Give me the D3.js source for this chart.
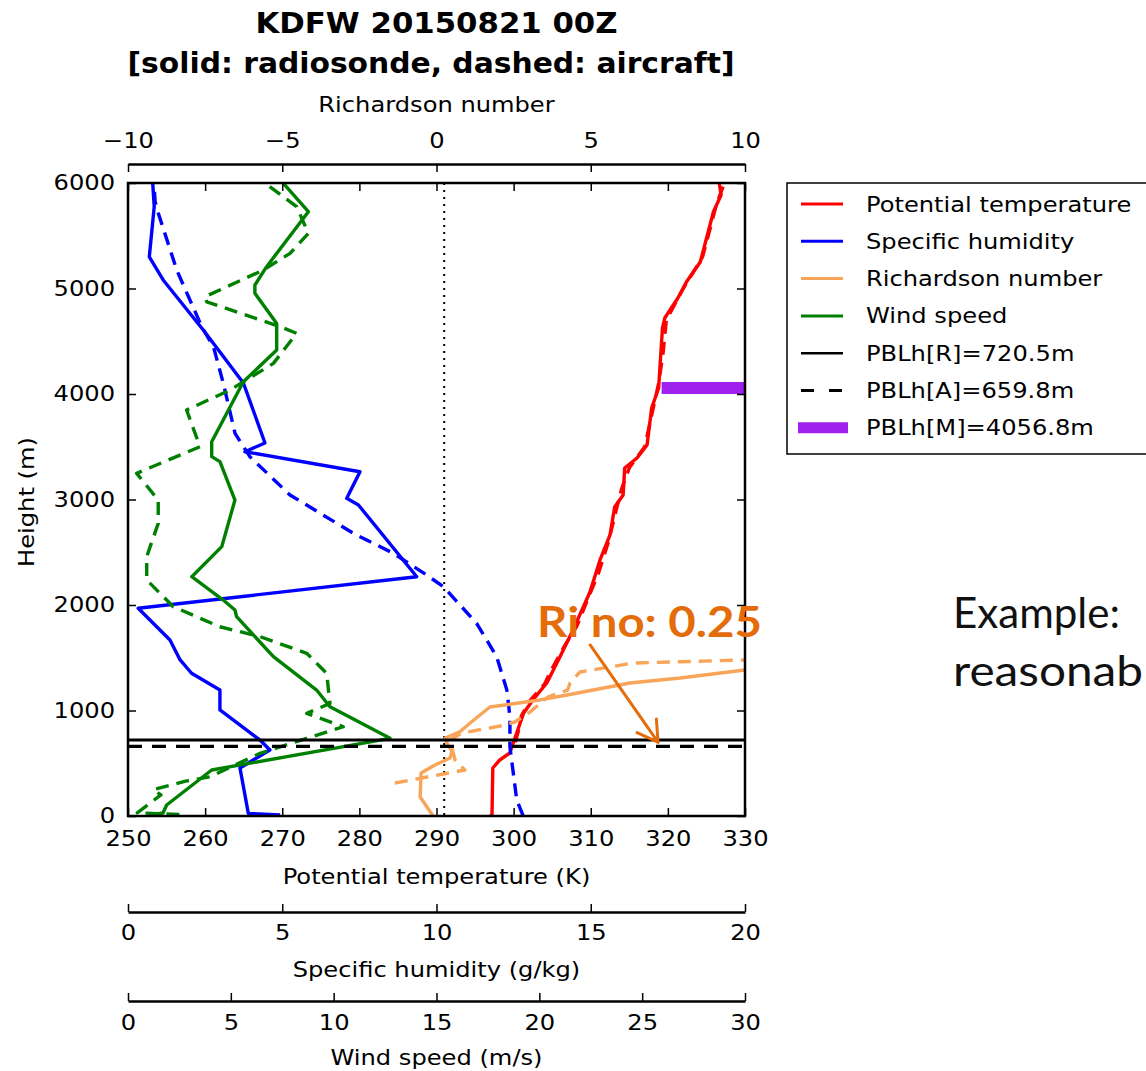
<!DOCTYPE html>
<html>
<head>
<meta charset="utf-8">
<script src="https://cdn.jsdelivr.net/npm/d3@7"></script>
<style>
  body { margin: 0; background: white; }
  svg { display: block; font-family: "DejaVu Sans", sans-serif; }
</style>
</head>
<body>
<div id="chart"></div>
<script>
// Profiles: heights (m) and values

// Potential temperature (K)
const thetaSondeH = [0, 20, 455, 531, 597, 787, 976, 1100, 1261, 1507, 1763, 2123, 2427, 2664, 2929, 3043, 3299, 3393, 3517, 3867, 4057, 4626, 4720, 4910, 5062, 5251, 5725, 5886, 5981, 6050];
const thetaSondeV = [297.0, 297.2, 297.3, 298.2, 299.5, 300.4, 301.3, 302.5, 304.3, 306.0, 307.7, 309.9, 311.2, 312.5, 313.1, 314.2, 314.4, 316.0, 317.3, 317.9, 318.8, 319.3, 319.6, 321.3, 322.4, 324.2, 325.9, 326.9, 326.7, 326.6];
const thetaAcftH = [700, 800, 950, 1100, 1250, 1400, 1600, 1800, 2000, 2300, 2600, 2900, 3100, 3300, 3500, 3800, 4100, 4400, 4700, 5000, 5300, 5600, 5800, 6050];
const thetaAcftV = [300.2, 300.6, 301.0, 302.2, 304.0, 305.0, 306.5, 308.2, 309.3, 311.0, 312.3, 313.3, 314.0, 315.0, 317.0, 317.9, 318.8, 319.4, 319.8, 322.0, 324.5, 325.6, 326.3, 327.6];

// Specific humidity (g/kg)
const qSondeH = [9, 25, 455, 626, 720, 1005, 1194, 1353, 1479, 1668, 1969, 2268, 2948, 3011, 3263, 3453, 3536, 4104, 4607, 5081, 5299, 5776, 6050];
const qSondeV = [4.93, 3.9, 3.63, 4.60, 4.28, 2.98, 2.98, 2.06, 1.69, 1.36, 0.33, 9.36, 7.47, 7.09, 7.52, 3.79, 4.44, 3.74, 2.44, 1.14, 0.69, 0.85, 0.79];
const qAcftH = [0, 152, 657, 941, 1194, 1510, 1827, 2174, 2300, 2490, 2680, 3043, 3406, 3627, 4101, 4448, 4638, 5175, 5716, 5823, 5950];
const qAcftV = [12.81, 12.60, 12.38, 12.38, 12.28, 11.95, 11.30, 10.22, 9.6, 8.60, 7.30, 5.25, 3.95, 3.47, 3.09, 2.77, 2.39, 1.58, 0.98, 0.88, 0.85];

// Richardson number
const riSondeH = [0, 180, 408, 483, 550, 616, 673, 739, 799, 882, 1033, 1100, 1147, 1261, 1308, 1384];
const riSondeV = [-0.11, -0.53, -0.50, -0.05, 0.44, 0.50, 0.37, 0.28, 0.76, 1.09, 1.73, 3.35, 4.23, 6.27, 7.9, 10.0];
const riAcftH = [313, 436, 531, 645, 720, 787, 853, 891, 986, 1128, 1194, 1261, 1365, 1450, 1479];
const riAcftV = [-1.35, 0.92, 0.60, 0.50, 0.44, 0.83, 2.06, 2.54, 3.03, 3.61, 4.25, 4.33, 4.65, 6.37, 10.0];

// Wind speed (m/s)
const windSondeH = [9, 28, 104, 436, 736, 1036, 1194, 1510, 1889, 1953, 2047, 2268, 2553, 2995, 3359, 3406, 3548, 4116, 4417, 4668, 4954, 5033, 5207, 5728, 5981, 6050];
const windSondeV = [1.07, 1.7, 1.88, 4.07, 12.74, 9.82, 9.17, 7.07, 5.28, 5.20, 4.63, 3.10, 4.56, 5.20, 4.47, 4.07, 4.07, 5.61, 7.23, 7.23, 6.17, 6.17, 6.74, 8.77, 7.63, 7.4];
const windAcftH = [15, 30, 200, 250, 330, 372, 594, 736, 846, 973, 1067, 1352, 1542, 1700, 1794, 1984, 2237, 2458, 2774, 2995, 3248, 3500, 3848, 4038, 4290, 4575, 4638, 4874, 4922, 5175, 5333, 5523, 5776, 6050];
const windAcftV = [2.5, 0.45, 1.6, 1.23, 2.8, 3.99, 6.42, 8.69, 10.47, 8.69, 9.82, 9.66, 8.69, 6.42, 4.47, 2.20, 0.91, 0.91, 1.47, 1.47, 0.42, 3.50, 2.85, 4.96, 7.07, 8.2, 7.39, 3.83, 3.74, 6.58, 7.88, 8.77, 8.2, 6.3];

// PBL heights (m) and critical Richardson number
const pblR = 720.5, pblA = 659.8, pblM = 4056.8;
const riCritical = 0.25;

// Tick values
const heightTicks = [0, 1000, 2000, 3000, 4000, 5000, 6000];
const thetaTicks = [250, 260, 270, 280, 290, 300, 310, 320, 330];
const riTicks = [-10, -5, 0, 5, 10];
const qTicks = [0, 5, 10, 15, 20];
const windTicks = [0, 5, 10, 15, 20, 25, 30];

const legendLabels = ["Potential temperature", "Specific humidity", "Richardson number", "Wind speed",
                      "PBLh[R]=720.5m", "PBLh[A]=659.8m", "PBLh[M]=4056.8m"];

// annotation arrow, in (Ri, height) units
const arrowFrom = [4.98, 1621], arrowTo = [7.18, 701];

let width = 1146, height = 1071;
let plot = {left: 128, right: 745, top: 183, bottom: 816};

const red = '#ff0000', blue = '#0000ff', orange = '#f8a55a', green = '#008000', purple = '#a020f0';
const noteColor = '#e46c0a';
const lineW = 3.4;

let svg = d3.select('#chart')
            .append('svg')
            .attr('width', width)
            .attr('height', height)
            .style('background', 'white');

// scales
const y = d3.scaleLinear().domain([0, 6000]).range([plot.bottom, plot.top]);
const xTheta = d3.scaleLinear().domain([250, 330]).range([plot.left, plot.right]);
const xQ = d3.scaleLinear().domain([0, 20]).range([plot.left, plot.right]);
const xRi = d3.scaleLinear().domain([-10, 10]).range([plot.left, plot.right]);
const xWind = d3.scaleLinear().domain([0, 30]).range([plot.left, plot.right]);

svg.append('clipPath').attr('id', 'plotclip')
   .append('rect')
   .attr('x', plot.left).attr('y', plot.top)
   .attr('width', plot.right - plot.left).attr('height', plot.bottom - plot.top);

let plotArea = svg.append('g').attr('clip-path', 'url(#plotclip)');

function profile(hs, vs, xs, color, dashed) {
  const pts = hs.map((h, i) => [xs(vs[i]), y(h)]);
  plotArea.append('path')
          .attr('d', d3.line()(pts))
          .attr('fill', 'none')
          .attr('stroke', color)
          .attr('stroke-width', lineW)
          .attr('stroke-linejoin', 'round')
          .attr('stroke-dasharray', dashed ? '13,8' : null);
}

// dotted line at the critical Richardson number
plotArea.append('line')
        .attr('x1', xRi(riCritical)).attr('x2', xRi(riCritical))
        .attr('y1', plot.top).attr('y2', plot.bottom)
        .attr('stroke', 'black').attr('stroke-width', 2)
        .attr('stroke-dasharray', '2,5');

profile(thetaSondeH, thetaSondeV, xTheta, red, false);
profile(thetaAcftH, thetaAcftV, xTheta, red, true);
profile(qSondeH, qSondeV, xQ, blue, false);
profile(qAcftH, qAcftV, xQ, blue, true);
profile(riSondeH, riSondeV, xRi, orange, false);
profile(riAcftH, riAcftV, xRi, orange, true);
profile(windSondeH, windSondeV, xWind, green, false);
profile(windAcftH, windAcftV, xWind, green, true);

// PBL heights
plotArea.append('line')
        .attr('x1', plot.left).attr('x2', plot.right)
        .attr('y1', y(pblR)).attr('y2', y(pblR))
        .attr('stroke', 'black').attr('stroke-width', 3);
plotArea.append('line')
        .attr('x1', plot.left).attr('x2', plot.right)
        .attr('y1', y(pblA)).attr('y2', y(pblA))
        .attr('stroke', 'black').attr('stroke-width', 3.4)
        .attr('stroke-dasharray', '14,10');

// model PBL bar starts at the sounding's theta at that height
let iM = d3.bisectLeft(thetaSondeH, pblM);
let tM = (pblM - thetaSondeH[iM - 1]) / (thetaSondeH[iM] - thetaSondeH[iM - 1]);
let thetaAtM = thetaSondeV[iM - 1] + tM * (thetaSondeV[iM] - thetaSondeV[iM - 1]);
plotArea.append('line')
        .attr('x1', xTheta(thetaAtM) + 3).attr('x2', plot.right)
        .attr('y1', y(pblM)).attr('y2', y(pblM))
        .attr('stroke', purple).attr('stroke-width', 12);

// frame
svg.append('rect')
   .attr('x', plot.left).attr('y', plot.top)
   .attr('width', plot.right - plot.left).attr('height', plot.bottom - plot.top)
   .attr('fill', 'none').attr('stroke', 'black').attr('stroke-width', 2.5);

function styleAxis(g, keepDomain) {
  g.attr('font-size', 21).attr('font-family', null);
  if (!keepDomain) g.select('.domain').remove();
  else g.select('.domain').attr('stroke-width', 2.5);
  g.selectAll('.tick line').attr('stroke-width', 1.5);
  g.selectAll('.tick text').attr('fill', 'black');
}

const fmt = d3.format('d');

// height axis (left) and mirrored ticks (right)
svg.append('g')
   .attr('transform', `translate(${plot.left},0)`)
   .call(d3.axisLeft(y).tickValues(heightTicks).tickFormat(fmt).tickSizeInner(-8).tickSizeOuter(0).tickPadding(13))
   .call(g => styleAxis(g, false));
svg.append('g')
   .attr('transform', `translate(${plot.right},0)`)
   .call(d3.axisRight(y).tickValues(heightTicks).tickSizeInner(-8).tickSizeOuter(0).tickFormat(''))
   .call(g => styleAxis(g, false));

// potential temperature axis (bottom) and mirrored ticks (top)
svg.append('g')
   .attr('transform', `translate(0,${plot.bottom})`)
   .call(d3.axisBottom(xTheta).tickValues(thetaTicks).tickFormat(fmt).tickSizeInner(-8).tickSizeOuter(0).tickPadding(15))
   .call(g => styleAxis(g, false));
svg.append('g')
   .attr('transform', `translate(0,${plot.top})`)
   .call(d3.axisTop(xTheta).tickValues(thetaTicks).tickSizeInner(-8).tickSizeOuter(0).tickFormat(''))
   .call(g => styleAxis(g, false));

// Richardson number axis, offset above the frame
svg.append('g')
   .attr('transform', 'translate(0,164)')
   .call(d3.axisTop(xRi).tickValues(riTicks).tickFormat(fmt).tickSizeInner(-8).tickSizeOuter(0).tickPadding(16))
   .call(g => styleAxis(g, true));

// specific humidity and wind speed axes, offset below
svg.append('g')
   .attr('transform', 'translate(0,912)')
   .call(d3.axisBottom(xQ).tickValues(qTicks).tickFormat(fmt).tickSizeInner(-8).tickSizeOuter(0).tickPadding(13))
   .call(g => styleAxis(g, true));
svg.append('g')
   .attr('transform', 'translate(0,1001)')
   .call(d3.axisBottom(xWind).tickValues(windTicks).tickFormat(fmt).tickSizeInner(-8).tickSizeOuter(0).tickPadding(14))
   .call(g => styleAxis(g, true));

// axis labels
let midX = (plot.left + plot.right) / 2;
function label(text, x, yy) {
  return svg.append('text').attr('class', 'st')
            .attr('x', x).attr('y', yy)
            .attr('text-anchor', 'middle')
            .attr('font-size', 21)
            .text(text);
}
label('Richardson number', midX, 112);
label('Potential temperature (K)', midX, 884);
label('Specific humidity (g/kg)', midX, 977);
label('Wind speed (m/s)', midX, 1065);
svg.append('text').attr('class', 'st')
   .attr('transform', 'rotate(-90)')
   .attr('x', -502).attr('y', 34)
   .attr('text-anchor', 'middle')
   .attr('font-size', 21)
   .text('Height (m)');

// title
svg.append('text')
   .attr('x', midX).attr('y', 33)
   .attr('text-anchor', 'middle')
   .attr('font-size', 29).attr('font-weight', 'bold')
   .attr('textLength', 362).attr('lengthAdjust', 'spacingAndGlyphs')
   .text('KDFW 20150821 00Z');
svg.append('text')
   .attr('x', 431).attr('y', 73)
   .attr('text-anchor', 'middle')
   .attr('font-size', 29).attr('font-weight', 'bold')
   .attr('textLength', 607).attr('lengthAdjust', 'spacingAndGlyphs')
   .text('[solid: radiosonde, dashed: aircraft]');

// legend
const legend = svg.append('g').attr('transform', 'translate(787,183)');
legend.append('rect')
      .attr('x', 0).attr('y', 0)
      .attr('width', 420).attr('height', 271)
      .attr('fill', 'white').attr('stroke', 'black').attr('stroke-width', 1.5);

const legendStyles = [
  {color: red, w: 3, dash: null},
  {color: blue, w: 3, dash: null},
  {color: orange, w: 3, dash: null},
  {color: green, w: 3, dash: null},
  {color: 'black', w: 2.5, dash: null},
  {color: 'black', w: 3, dash: '13,15'},
  {color: purple, w: 11, dash: null}
];
legendLabels.forEach((name, i) => {
  let ly = 21 + i * 37.3;
  let s = legendStyles[i];
  legend.append('line')
        .attr('x1', i === 6 ? 11 : 14).attr('x2', i === 6 ? 61 : 56)
        .attr('y1', ly).attr('y2', ly)
        .attr('stroke', s.color).attr('stroke-width', s.w)
        .attr('stroke-dasharray', s.dash);
  legend.append('text').attr('class', 'st')
        .attr('x', 79).attr('y', ly)
        .attr('dy', '0.36em')
        .attr('font-size', 21)
        .text(name);
});

// annotation
svg.append('text')
   .attr('x', 537).attr('y', 637)
   .attr('font-family', 'Lato, "Open Sans", sans-serif')
   .attr('font-weight', 'bold').attr('font-size', 42)
   .attr('fill', noteColor)
   .attr('textLength', 225).attr('lengthAdjust', 'spacingAndGlyphs')
   .text('Ri no: 0.25');

let ax0 = xRi(arrowFrom[0]), ay0 = y(arrowFrom[1]);
let ax1 = xRi(arrowTo[0]), ay1 = y(arrowTo[1]);
let ang = Math.atan2(ay1 - ay0, ax1 - ax0);
let arrow = svg.append('g')
               .attr('stroke', noteColor).attr('stroke-width', 3)
               .attr('stroke-linecap', 'round').attr('fill', 'none');
arrow.append('line').attr('x1', ax0).attr('y1', ay0).attr('x2', ax1).attr('y2', ay1);
[-1, 1].forEach(sgn => {
  let a = ang + Math.PI + sgn * 31 * Math.PI / 180;
  arrow.append('line')
       .attr('x1', ax1).attr('y1', ay1)
       .attr('x2', ax1 + 23 * Math.cos(a)).attr('y2', ay1 + 23 * Math.sin(a));
});

// slide text beside the chart (cut by the right edge in the original)
svg.append('text')
   .attr('x', 953).attr('y', 628)
   .attr('font-family', 'Lato, "Open Sans", sans-serif')
   .attr('font-size', 43).attr('fill', '#111')
   .attr('textLength', 167).attr('lengthAdjust', 'spacingAndGlyphs')
   .text('Example:');
svg.append('text')
   .attr('x', 953).attr('y', 686)
   .attr('font-family', 'Lato, "Open Sans", sans-serif')
   .attr('font-size', 43).attr('fill', '#111')
   .attr('textLength', 190).attr('lengthAdjust', 'spacingAndGlyphs')
   .text('reasonab');

// the original figure's text is a little wider than DejaVu Sans
svg.selectAll('text.st, .tick text').each(function() {
  let len = this.getComputedTextLength();
  if (len > 0) {
    d3.select(this).attr('textLength', len * 1.15).attr('lengthAdjust', 'spacingAndGlyphs');
  }
});
</script>
</body>
</html>
